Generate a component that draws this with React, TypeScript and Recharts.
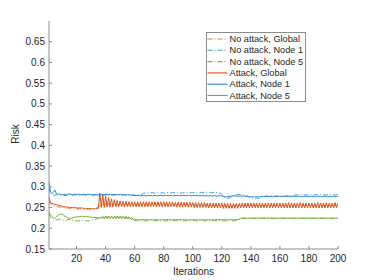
import React from 'react';
import { LineChart, Line, XAxis, YAxis, Legend } from 'recharts';

const iterations: number[] = Array.from({ length: 200 }, (_, i) => i + 1);

const xTicks = [20, 40, 60, 80, 100, 120, 140, 160, 180, 200];
const yTicks = [0.15, 0.2, 0.25, 0.3, 0.35, 0.4, 0.45, 0.5, 0.55, 0.6, 0.65];

const noAttackGlobal = [
  0.266,0.259,0.257,0.255,0.254,0.253,0.252,0.251,0.251,0.250,0.250,0.249,0.249,0.249,0.248,0.248,0.248,0.248,0.247,0.247,
  0.247,0.247,0.247,0.246,0.246,0.246,0.246,0.246,0.246,0.246,0.246,0.247,0.248,0.250,0.252,0.254,0.256,0.257,0.257,0.258,
  0.258,0.258,0.258,0.257,0.258,0.258,0.258,0.257,0.257,0.258,0.258,0.257,0.257,0.258,0.257,0.257,0.257,0.258,0.257,0.257,
  0.257,0.257,0.258,0.257,0.257,0.257,0.258,0.257,0.257,0.257,0.257,0.258,0.257,0.257,0.257,0.257,0.258,0.257,0.257,0.257,
  0.257,0.257,0.256,0.257,0.257,0.256,0.257,0.256,0.256,0.257,0.256,0.256,0.256,0.257,0.256,0.256,0.256,0.256,0.256,0.255,
  0.256,0.255,0.255,0.256,0.255,0.255,0.255,0.255,0.256,0.255,0.255,0.255,0.254,0.255,0.255,0.254,0.255,0.254,0.254,0.254,
  0.254,0.254,0.254,0.254,0.254,0.254,0.254,0.254,0.254,0.255,0.254,0.255,0.255,0.255,0.255,0.255,0.255,0.255,0.255,0.255,
  0.255,0.255,0.256,0.255,0.255,0.255,0.255,0.256,0.255,0.255,0.255,0.255,0.255,0.256,0.255,0.255,0.255,0.255,0.256,0.255,
  0.255,0.255,0.255,0.256,0.255,0.255,0.255,0.255,0.255,0.256,0.255,0.255,0.255,0.255,0.256,0.255,0.255,0.255,0.255,0.255,
  0.256,0.255,0.255,0.255,0.255,0.255,0.256,0.255,0.255,0.255,0.255,0.256,0.255,0.255,0.255,0.255,0.255,0.256,0.255,0.255,
];

const noAttackNode1 = [
  0.300,0.284,0.281,0.279,0.280,0.281,0.280,0.279,0.280,0.281,0.280,0.279,0.279,0.280,0.281,0.280,0.279,0.280,0.281,0.281,
  0.280,0.279,0.280,0.281,0.281,0.280,0.280,0.281,0.282,0.281,0.280,0.280,0.281,0.281,0.280,0.280,0.280,0.281,0.280,0.280,
  0.280,0.280,0.281,0.280,0.280,0.280,0.281,0.280,0.280,0.280,0.280,0.281,0.280,0.280,0.280,0.280,0.281,0.280,0.280,0.280,
  0.280,0.280,0.280,0.281,0.282,0.284,0.285,0.285,0.286,0.285,0.285,0.286,0.285,0.285,0.286,0.286,0.285,0.285,0.286,0.285,
  0.285,0.286,0.286,0.285,0.285,0.286,0.286,0.286,0.285,0.286,0.286,0.285,0.285,0.286,0.286,0.286,0.285,0.285,0.286,0.286,
  0.286,0.285,0.286,0.286,0.287,0.286,0.286,0.287,0.287,0.286,0.286,0.287,0.286,0.286,0.287,0.286,0.286,0.285,0.284,0.282,
  0.278,0.274,0.273,0.272,0.273,0.274,0.277,0.280,0.281,0.281,0.282,0.281,0.281,0.281,0.280,0.280,0.279,0.277,0.275,0.273,
  0.273,0.272,0.272,0.273,0.272,0.272,0.274,0.276,0.277,0.277,0.278,0.277,0.277,0.278,0.278,0.277,0.278,0.278,0.277,0.278,
  0.278,0.278,0.279,0.278,0.278,0.279,0.279,0.279,0.280,0.280,0.280,0.281,0.280,0.280,0.281,0.281,0.280,0.281,0.281,0.280,
  0.281,0.281,0.280,0.281,0.281,0.281,0.280,0.281,0.281,0.281,0.280,0.281,0.281,0.280,0.281,0.281,0.281,0.280,0.281,0.281,
];

const noAttackNode5 = [
  0.234,0.226,0.222,0.220,0.219,0.220,0.221,0.222,0.221,0.220,0.219,0.219,0.220,0.221,0.221,0.220,0.219,0.219,0.218,0.218,
  0.218,0.218,0.219,0.219,0.218,0.218,0.218,0.218,0.219,0.219,0.220,0.221,0.222,0.223,0.224,0.225,0.226,0.226,0.227,0.227,
  0.227,0.228,0.227,0.228,0.227,0.228,0.227,0.227,0.227,0.228,0.227,0.227,0.226,0.225,0.224,0.223,0.222,0.221,0.220,0.219,
  0.219,0.218,0.218,0.218,0.219,0.218,0.218,0.218,0.218,0.219,0.218,0.218,0.218,0.218,0.219,0.218,0.218,0.218,0.219,0.218,
  0.218,0.218,0.219,0.218,0.218,0.218,0.218,0.219,0.218,0.218,0.218,0.219,0.218,0.218,0.218,0.218,0.219,0.218,0.218,0.218,
  0.219,0.218,0.218,0.218,0.218,0.219,0.218,0.218,0.218,0.219,0.218,0.218,0.218,0.218,0.219,0.218,0.218,0.218,0.219,0.218,
  0.218,0.218,0.218,0.219,0.218,0.218,0.218,0.218,0.219,0.219,0.220,0.221,0.223,0.224,0.224,0.224,0.223,0.224,0.224,0.224,
  0.224,0.223,0.224,0.224,0.224,0.223,0.224,0.224,0.224,0.224,0.223,0.224,0.224,0.224,0.223,0.224,0.224,0.224,0.224,0.223,
  0.224,0.224,0.224,0.223,0.224,0.224,0.224,0.224,0.223,0.224,0.224,0.224,0.223,0.224,0.224,0.224,0.224,0.223,0.224,0.224,
  0.224,0.223,0.224,0.224,0.224,0.224,0.223,0.224,0.224,0.224,0.223,0.224,0.224,0.224,0.224,0.223,0.224,0.224,0.224,0.224,
];

const attackGlobal = [
  0.276,0.262,0.260,0.259,0.258,0.257,0.256,0.255,0.254,0.253,0.252,0.252,0.251,0.251,0.251,0.250,0.250,0.250,0.250,0.249,
  0.249,0.249,0.249,0.249,0.248,0.248,0.248,0.248,0.248,0.247,0.247,0.247,0.247,0.247,0.248,0.285,0.250,0.281,0.250,0.277,
  0.251,0.274,0.251,0.271,0.251,0.269,0.252,0.267,0.252,0.266,0.252,0.265,0.252,0.265,0.252,0.264,0.252,0.264,0.252,0.264,
  0.252,0.264,0.252,0.264,0.252,0.264,0.252,0.264,0.252,0.264,0.252,0.264,0.252,0.264,0.252,0.264,0.252,0.264,0.252,0.264,
  0.252,0.264,0.252,0.264,0.252,0.264,0.252,0.263,0.251,0.263,0.251,0.263,0.251,0.263,0.251,0.263,0.251,0.263,0.251,0.262,
  0.250,0.262,0.250,0.262,0.250,0.262,0.250,0.262,0.250,0.261,0.249,0.261,0.249,0.261,0.249,0.261,0.249,0.261,0.249,0.261,
  0.248,0.260,0.248,0.260,0.248,0.260,0.248,0.260,0.248,0.260,0.248,0.260,0.249,0.261,0.249,0.261,0.249,0.261,0.249,0.261,
  0.249,0.261,0.249,0.261,0.249,0.261,0.249,0.261,0.249,0.261,0.249,0.261,0.249,0.261,0.249,0.261,0.249,0.261,0.249,0.261,
  0.249,0.261,0.249,0.261,0.249,0.262,0.249,0.261,0.249,0.261,0.249,0.261,0.249,0.262,0.249,0.261,0.249,0.261,0.249,0.261,
  0.249,0.261,0.249,0.261,0.249,0.262,0.249,0.261,0.249,0.261,0.249,0.262,0.249,0.261,0.249,0.261,0.249,0.262,0.249,0.261,
];

const attackNode1 = [
  0.312,0.287,0.284,0.287,0.292,0.285,0.282,0.283,0.282,0.281,0.282,0.282,0.281,0.282,0.283,0.282,0.281,0.282,0.282,0.281,
  0.282,0.282,0.281,0.281,0.282,0.281,0.281,0.282,0.281,0.281,0.281,0.280,0.281,0.281,0.280,0.281,0.282,0.281,0.281,0.282,
  0.281,0.281,0.282,0.281,0.281,0.282,0.281,0.281,0.281,0.282,0.281,0.281,0.281,0.280,0.281,0.281,0.280,0.280,0.280,0.279,
  0.279,0.279,0.279,0.278,0.279,0.279,0.279,0.278,0.279,0.279,0.279,0.278,0.279,0.279,0.279,0.278,0.279,0.279,0.279,0.278,
  0.279,0.279,0.278,0.279,0.279,0.279,0.278,0.279,0.279,0.279,0.278,0.279,0.279,0.279,0.278,0.279,0.279,0.279,0.278,0.279,
  0.279,0.278,0.279,0.279,0.278,0.279,0.279,0.278,0.279,0.278,0.278,0.279,0.278,0.278,0.279,0.278,0.278,0.278,0.279,0.278,
  0.277,0.276,0.276,0.276,0.277,0.277,0.278,0.278,0.278,0.278,0.277,0.278,0.278,0.277,0.278,0.277,0.277,0.277,0.276,0.276,
  0.276,0.276,0.276,0.276,0.276,0.276,0.277,0.277,0.277,0.277,0.277,0.276,0.277,0.277,0.276,0.277,0.277,0.276,0.277,0.277,
  0.277,0.277,0.276,0.277,0.277,0.277,0.276,0.277,0.277,0.277,0.276,0.277,0.277,0.277,0.276,0.277,0.277,0.277,0.277,0.276,
  0.277,0.277,0.277,0.276,0.277,0.277,0.277,0.277,0.276,0.277,0.277,0.277,0.276,0.277,0.277,0.277,0.277,0.276,0.277,0.277,
];

const attackNode5 = [
  0.240,0.233,0.228,0.225,0.224,0.227,0.231,0.233,0.234,0.234,0.232,0.229,0.227,0.225,0.224,0.224,0.225,0.226,0.227,0.227,
  0.228,0.228,0.229,0.229,0.228,0.228,0.228,0.228,0.227,0.227,0.226,0.226,0.226,0.225,0.225,0.226,0.224,0.229,0.223,0.229,
  0.223,0.229,0.223,0.229,0.223,0.229,0.223,0.229,0.223,0.229,0.223,0.229,0.223,0.229,0.223,0.228,0.222,0.226,0.221,0.222,
  0.220,0.221,0.220,0.221,0.220,0.221,0.220,0.221,0.220,0.221,0.220,0.221,0.220,0.221,0.220,0.221,0.220,0.221,0.220,0.221,
  0.220,0.221,0.221,0.220,0.221,0.220,0.221,0.220,0.221,0.220,0.221,0.220,0.221,0.220,0.221,0.220,0.220,0.221,0.220,0.221,
  0.220,0.221,0.220,0.221,0.220,0.221,0.220,0.221,0.220,0.221,0.220,0.221,0.220,0.221,0.220,0.221,0.220,0.221,0.220,0.221,
  0.220,0.221,0.220,0.221,0.220,0.221,0.220,0.221,0.220,0.221,0.221,0.222,0.224,0.225,0.224,0.225,0.224,0.225,0.224,0.225,
  0.224,0.225,0.224,0.225,0.224,0.225,0.224,0.225,0.224,0.225,0.224,0.225,0.224,0.225,0.224,0.225,0.224,0.225,0.224,0.225,
  0.224,0.225,0.224,0.225,0.224,0.225,0.224,0.225,0.224,0.225,0.224,0.225,0.224,0.225,0.224,0.225,0.224,0.225,0.224,0.225,
  0.224,0.225,0.224,0.225,0.224,0.225,0.224,0.225,0.224,0.225,0.224,0.225,0.224,0.225,0.224,0.225,0.224,0.225,0.224,0.225,
];

const seriesNames = [
  'No attack, Global',
  'No attack, Node 1',
  'No attack, Node 5',
  'Attack, Global',
  'Attack, Node 1',
  'Attack, Node 5',
];

const seriesList = [
  { key: 'ng', name: seriesNames[0], values: noAttackGlobal, color: '#E8733F', dash: '5 2 1 2' },
  { key: 'n1', name: seriesNames[1], values: noAttackNode1, color: '#3C9EE0', dash: '5 2 1 2' },
  { key: 'n5', name: seriesNames[2], values: noAttackNode5, color: '#7FAE3A', dash: '5 2 1 2' },
  { key: 'ag', name: seriesNames[3], values: attackGlobal, color: '#D95319', dash: undefined },
  { key: 'a1', name: seriesNames[4], values: attackNode1, color: '#2B86D0', dash: undefined },
  { key: 'a5', name: seriesNames[5], values: attackNode5, color: '#77AC30', dash: undefined },
];

const data = iterations.map((it, i) => {
  const row: Record<string, number> = { iter: it };
  seriesList.forEach((s) => {
    row[s.key] = s.values[i];
  });
  return row;
});

const AXIS = '#8c8c8c';
const TEXT = '#262626';
const FONT = '"Liberation Sans", Arial, Helvetica, sans-serif';

const fmt = (v: number) => String(Number(v.toFixed(2)));

const LEG_W = 100;
const LEG_H = 70;
const ROW_H = 11.3;

const LegendBox = () => (
  <svg width={LEG_W} height={LEG_H} style={{ display: 'block' }}>
    <rect x={0.5} y={0.5} width={LEG_W - 1} height={LEG_H - 1} fill="#fff" stroke={AXIS} strokeWidth={1} />
    {seriesList.map((s, i) => {
      const cy = 7 + i * ROW_H;
      return (
        <g key={s.key}>
          <line x1={1.5} x2={21.5} y1={cy} y2={cy} stroke={s.color} strokeWidth={1.1} strokeDasharray={s.dash} />
          <text
            x={23.5}
            y={cy}
            dominantBaseline="central"
            fontSize={9.2}
            fill={TEXT}
            fontFamily={FONT}
          >
            {s.name}
          </text>
        </g>
      );
    })}
  </svg>
);

const RiskLabel = (props: any) => {
  const vb = props.viewBox || { x: 0, y: 21, width: 49, height: 228 };
  const cx = vb.x + 15;
  const cy = vb.y + vb.height / 2 - 1;
  return (
    <text
      x={cx}
      y={cy}
      transform={`rotate(-90, ${cx}, ${cy})`}
      textAnchor="middle"
      dominantBaseline="central"
      fill={TEXT}
      fontSize={10}
      fontFamily={FONT}
    >
      Risk
    </text>
  );
};

export default function App() {
  return (
    <div style={{ position: 'absolute', left: 0, top: 0, width: 374, height: 280, background: '#fff', fontFamily: FONT }}>
      <LineChart width={374} height={280} data={data} margin={{ top: 21, right: 36, bottom: 0, left: 0 }}>
        <XAxis
          dataKey="iter"
          type="number"
          domain={[1, 200]}
          ticks={xTicks}
          allowDataOverflow
          height={31}
          stroke={AXIS}
          tickSize={-3}
          tickMargin={9}
          tick={{ fill: TEXT, fontSize: 10, fontFamily: FONT }}
          label={{ value: 'Iterations', position: 'insideBottom', offset: 5, fill: TEXT, fontSize: 10, fontFamily: FONT }}
        />
        <XAxis
          xAxisId="top"
          dataKey="iter"
          type="number"
          orientation="top"
          domain={[1, 200]}
          ticks={xTicks}
          allowDataOverflow
          height={0}
          stroke={AXIS}
          tickSize={-3}
          tick={false}
        />
        <YAxis
          type="number"
          domain={[0.15, 0.7]}
          ticks={yTicks}
          allowDataOverflow
          width={49}
          stroke={AXIS}
          tickSize={-3}
          tickMargin={7}
          tickFormatter={fmt}
          tick={{ fill: TEXT, fontSize: 10, fontFamily: FONT }}
          label={{ content: RiskLabel }}
        />
        <YAxis
          yAxisId="right"
          orientation="right"
          type="number"
          domain={[0.15, 0.7]}
          ticks={yTicks}
          allowDataOverflow
          width={0}
          stroke={AXIS}
          tickSize={-3}
          tick={false}
        />
        <Legend
          layout="vertical"
          align="center"
          verticalAlign="middle"
          wrapperStyle={{ left: 206, top: 32, width: LEG_W, height: LEG_H }}
          content={LegendBox}
        />
        {seriesList.map((s) => (
          <Line
            key={s.key}
            dataKey={s.key}
            name={s.name}
            stroke={s.color}
            strokeWidth={1}
            strokeDasharray={s.dash}
            dot={false}
            activeDot={false}
            isAnimationActive={false}
            type="linear"
          />
        ))}
      </LineChart>
    </div>
  );
}
